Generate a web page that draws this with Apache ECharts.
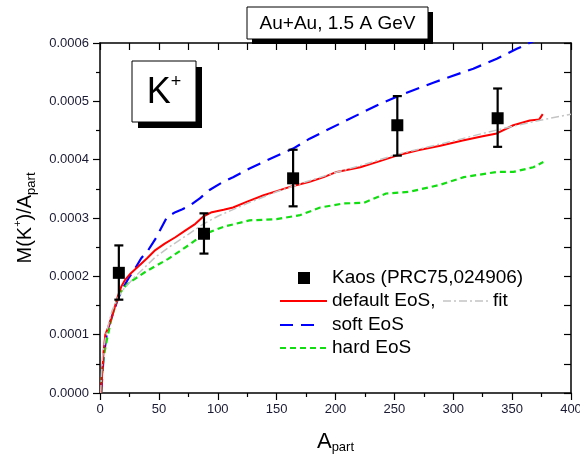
<!DOCTYPE html>
<html>
<head>
<meta charset="utf-8">
<script src="https://cdn.jsdelivr.net/npm/echarts@6/dist/echarts.min.js"></script>
<style>
html,body{margin:0;padding:0;background:#fff;}
#chart{width:580px;height:459px;}
</style>
</head>
<body>
<div id="chart"></div>
<script>
// ---- data ----
var kaosA = [16, 88.3, 164, 252.5, 337.7];
var kaosVal = [0.000206, 0.000273, 0.000368, 0.000459, 0.000471];
var kaosLow = [0.000160, 0.000239, 0.000320, 0.000407, 0.000422];
var kaosHigh = [0.000253, 0.000308, 0.000417, 0.000509, 0.000522];

var defaultA = [1, 2, 3, 4.5, 7, 10, 13, 15, 18, 21, 26, 32, 40, 47, 55, 64, 72, 81, 88, 95, 105, 113, 125, 139, 150, 164, 178, 190, 201, 221, 237, 252, 270, 289, 308, 325, 337, 351, 365, 373, 376];
var defaultVal = [0, 0.00004, 0.00007, 0.000100, 0.000113, 0.000130, 0.000150, 0.000165, 0.000182, 0.000193, 0.000205, 0.000216, 0.000231, 0.000245, 0.000256, 0.000267, 0.000278, 0.000290, 0.000303, 0.000310, 0.000314, 0.000318, 0.000328, 0.000339, 0.000346, 0.000355, 0.000362, 0.000370, 0.000379, 0.000387, 0.000397, 0.000407, 0.000416, 0.000424, 0.000433, 0.000440, 0.000445, 0.000459, 0.000467, 0.000469, 0.000478];

var fitA = [0.5, 2, 5, 10, 15, 20, 30, 47, 60, 75, 88, 100, 125, 150, 175, 200, 225, 252, 275, 300, 325, 350, 375, 400];
var fitVal = [0, 0.00006, 0.000100, 0.000140, 0.000163, 0.000178, 0.000200, 0.000233, 0.000252, 0.000272, 0.000290, 0.000303, 0.000325, 0.000345, 0.000362, 0.000378, 0.000392, 0.000409, 0.000420, 0.000432, 0.000445, 0.000457, 0.000468, 0.000478];

var softA = [1, 3, 6, 10, 15, 19, 24, 30, 35, 41, 48, 51, 57, 64, 70, 76, 85, 93, 103, 113, 127, 142, 164, 178, 187, 207, 235, 252, 283, 317, 337, 354, 368];
var softVal = [0, 0.00006, 0.000105, 0.000130, 0.000160, 0.000178, 0.000196, 0.000214, 0.000231, 0.000245, 0.000267, 0.000279, 0.000302, 0.000310, 0.000315, 0.000321, 0.000334, 0.000348, 0.000360, 0.000370, 0.000385, 0.000399, 0.000419, 0.000436, 0.000445, 0.000465, 0.000493, 0.000508, 0.000532, 0.000556, 0.000573, 0.000590, 0.000603];

var hardA = [1, 1.5, 3, 5.7, 10, 15.6, 20, 24, 38, 58, 75, 88, 105, 127, 150, 170, 187, 207, 224, 243, 263, 289, 309, 337, 351, 368, 376.5];
var hardVal = [0, 0.000027, 0.00006, 0.000090, 0.000130, 0.000167, 0.000180, 0.000188, 0.000207, 0.000230, 0.000253, 0.000272, 0.000285, 0.000296, 0.000298, 0.000305, 0.000318, 0.000325, 0.000326, 0.000342, 0.000345, 0.000357, 0.000370, 0.000379, 0.000379, 0.000387, 0.000396];

var xTicks = [0, 50, 100, 150, 200, 250, 300, 350, 400];
var yTicks = [0, 0.0001, 0.0002, 0.0003, 0.0004, 0.0005, 0.0006];

function zip(a, b) { return a.map(function (v, i) { return [v, b[i]]; }); }

var FONT = 'Liberation Sans, Arial, sans-serif';
var LBL = '#1a1a33';

var chart = echarts.init(document.getElementById('chart'), null, {renderer: 'canvas'});

var option = {
  backgroundColor: '#fff',
  animation: false,
  grid: {left: 100, right: 9, top: 43, bottom: 66, containLabel: false, outerBoundsMode: 'none'},
  xAxis: [{
    type: 'value', min: xTicks[0], max: xTicks[xTicks.length - 1], interval: 50,
    position: 'bottom',
    axisLine: {show: true, onZero: false, lineStyle: {color: '#000', width: 1.5}},
    axisTick: {show: true, inside: false, length: 7, lineStyle: {color: '#000', width: 1.2}},
    minorTick: {show: true, splitNumber: 2, length: 4, lineStyle: {color: '#000', width: 1.2}},
    axisLabel: {color: LBL, fontFamily: FONT, fontSize: 13, margin: 10},
    splitLine: {show: false},
    name: 'A{sub|part}', nameLocation: 'middle', nameGap: 37,
    nameTextStyle: {
      color: '#000', fontFamily: FONT, fontSize: 22, lineHeight: 24,
      rich: {sub: {fontSize: 13, fontFamily: FONT, color: '#000', lineHeight: 14, verticalAlign: 'bottom', padding: [12, 0, 0, 0]}}
    }
  }, {
    type: 'value', min: 0, max: 400, interval: 25, position: 'top',
    axisLine: {show: true, onZero: false, lineStyle: {color: '#000', width: 1.5}},
    axisTick: {show: true, inside: true, length: 7, lineStyle: {color: '#000', width: 1.2}},
    axisLabel: {show: false}, splitLine: {show: false}
  }],
  yAxis: [{
    type: 'value', min: yTicks[0], max: yTicks[yTicks.length - 1], interval: 0.0001,
    position: 'left',
    axisLine: {show: true, onZero: false, lineStyle: {color: '#000', width: 1.5}},
    axisTick: {show: true, inside: false, length: 7, lineStyle: {color: '#000', width: 1.2}},
    minorTick: {show: true, splitNumber: 2, length: 4, lineStyle: {color: '#000', width: 1.2}},
    axisLabel: {color: LBL, fontFamily: FONT, fontSize: 13, margin: 11,
      formatter: function (v) { return v.toFixed(4); }},
    splitLine: {show: false},
    name: 'M(K{sup|+})/A{sub|part}', nameLocation: 'middle', nameGap: 62,
    nameTextStyle: {
      color: '#000', fontFamily: FONT, fontSize: 20, lineHeight: 26,
      rich: {
        sup: {fontSize: 11, fontFamily: FONT, color: '#000', lineHeight: 12, verticalAlign: 'top'},
        sub: {fontSize: 13, fontFamily: FONT, color: '#000', lineHeight: 14, verticalAlign: 'bottom', padding: [10, 0, 0, 0]}
      }
    }
  }, {
    type: 'value', min: 0, max: 0.0006, interval: 0.00005, position: 'right',
    axisLine: {show: true, onZero: false, lineStyle: {color: '#000', width: 1.5}},
    axisTick: {show: true, inside: true, length: 7, lineStyle: {color: '#000', width: 1.2}},
    axisLabel: {show: false}, splitLine: {show: false}
  }],
  series: [
    {type: 'line', name: 'soft EoS', data: zip(softA, softVal), showSymbol: false, clip: true,
      lineStyle: {color: '#0000ff', width: 2.2, type: [14, 8]}, z: 2},
    {type: 'line', name: 'hard EoS', data: zip(hardA, hardVal), showSymbol: false,
      lineStyle: {color: '#11dd11', width: 2.2, type: [6, 4]}, z: 2},
    {type: 'line', name: 'default EoS', data: zip(defaultA, defaultVal), showSymbol: false,
      lineStyle: {color: '#ff0000', width: 2}, z: 3},
    {type: 'line', name: 'fit', data: zip(fitA, fitVal), showSymbol: false,
      lineStyle: {color: '#c4c4c4', width: 1.5, type: [8, 3, 2, 3]}, z: 4},
    {type: 'custom', name: 'Kaos err', z: 5,
      data: kaosA.map(function (a, i) { return [a, kaosLow[i], kaosHigh[i]]; }),
      renderItem: function (params, api) {
        var lo = api.coord([api.value(0), api.value(1)]);
        var hi = api.coord([api.value(0), api.value(2)]);
        var w = 4.5;
        var st = {stroke: '#000', lineWidth: 2.2};
        return {type: 'group', children: [
          {type: 'line', shape: {x1: lo[0], y1: lo[1], x2: hi[0], y2: hi[1]}, style: st},
          {type: 'line', shape: {x1: lo[0] - w, y1: lo[1], x2: lo[0] + w, y2: lo[1]}, style: st},
          {type: 'line', shape: {x1: hi[0] - w, y1: hi[1], x2: hi[0] + w, y2: hi[1]}, style: st}
        ]};
      }
    },
    {type: 'scatter', name: 'Kaos (PRC75,024906)', data: zip(kaosA, kaosVal), symbol: 'rect', symbolSize: 12,
      itemStyle: {color: '#000', opacity: 1}, z: 6}
  ],
  graphic: [
    // title box
    {type: 'rect', shape: {x: 252, y: 12, width: 181, height: 32}, style: {fill: '#000'}, z: 100},
    {type: 'rect', shape: {x: 247, y: 7, width: 181, height: 32}, style: {fill: '#fff', stroke: '#000', lineWidth: 1}, z: 101},
    {type: 'text', x: 337.5, y: 23.5, z: 102, style: {text: 'Au+Au, 1.5 A GeV', fontFamily: FONT, fontSize: 19, fill: '#000', align: 'center', verticalAlign: 'middle'}},
    // K+ box
    {type: 'rect', shape: {x: 138, y: 67, width: 64, height: 61}, style: {fill: '#000'}, z: 100},
    {type: 'rect', shape: {x: 132, y: 61, width: 64, height: 61}, style: {fill: '#fff', stroke: '#000', lineWidth: 1}, z: 101},
    {type: 'text', x: 164, y: 93, z: 102, style: {text: 'K{sup|+}', fontFamily: FONT, fontSize: 36, lineHeight: 40, fill: '#000', align: 'center', verticalAlign: 'middle',
      rich: {sup: {fontSize: 18, fontFamily: FONT, fill: '#000', lineHeight: 20, verticalAlign: 'top'}}}},
    // legend
    {type: 'rect', shape: {x: 298, y: 272, width: 12, height: 12}, style: {fill: '#000'}, z: 100},
    {type: 'text', x: 332, y: 278, z: 100, style: {text: 'Kaos (PRC75,024906)', fontFamily: FONT, fontSize: 19, fill: '#000', verticalAlign: 'middle'}},
    {type: 'line', shape: {x1: 280, y1: 301, x2: 327, y2: 301}, style: {stroke: '#ff0000', lineWidth: 2}, z: 100},
    {type: 'text', x: 332, y: 301, z: 100, style: {text: 'default EoS,', fontFamily: FONT, fontSize: 19, fill: '#000', verticalAlign: 'middle'}},
    {type: 'line', shape: {x1: 443, y1: 301, x2: 490, y2: 301}, style: {stroke: '#c4c4c4', lineWidth: 1.5, lineDash: [8, 3, 2, 3]}, z: 100},
    {type: 'text', x: 493, y: 301, z: 100, style: {text: 'fit', fontFamily: FONT, fontSize: 19, fill: '#000', verticalAlign: 'middle'}},
    {type: 'line', shape: {x1: 280, y1: 325, x2: 320, y2: 325}, style: {stroke: '#0000ff', lineWidth: 2.2, lineDash: [13, 8]}, z: 100},
    {type: 'text', x: 332, y: 325, z: 100, style: {text: 'soft EoS', fontFamily: FONT, fontSize: 19, fill: '#000', verticalAlign: 'middle'}},
    {type: 'line', shape: {x1: 280, y1: 348, x2: 327, y2: 348}, style: {stroke: '#11dd11', lineWidth: 2.2, lineDash: [6, 4]}, z: 100},
    {type: 'text', x: 332, y: 348, z: 100, style: {text: 'hard EoS', fontFamily: FONT, fontSize: 19, fill: '#000', verticalAlign: 'middle'}}
  ]
};
chart.setOption(option);
</script>
</body>
</html>
